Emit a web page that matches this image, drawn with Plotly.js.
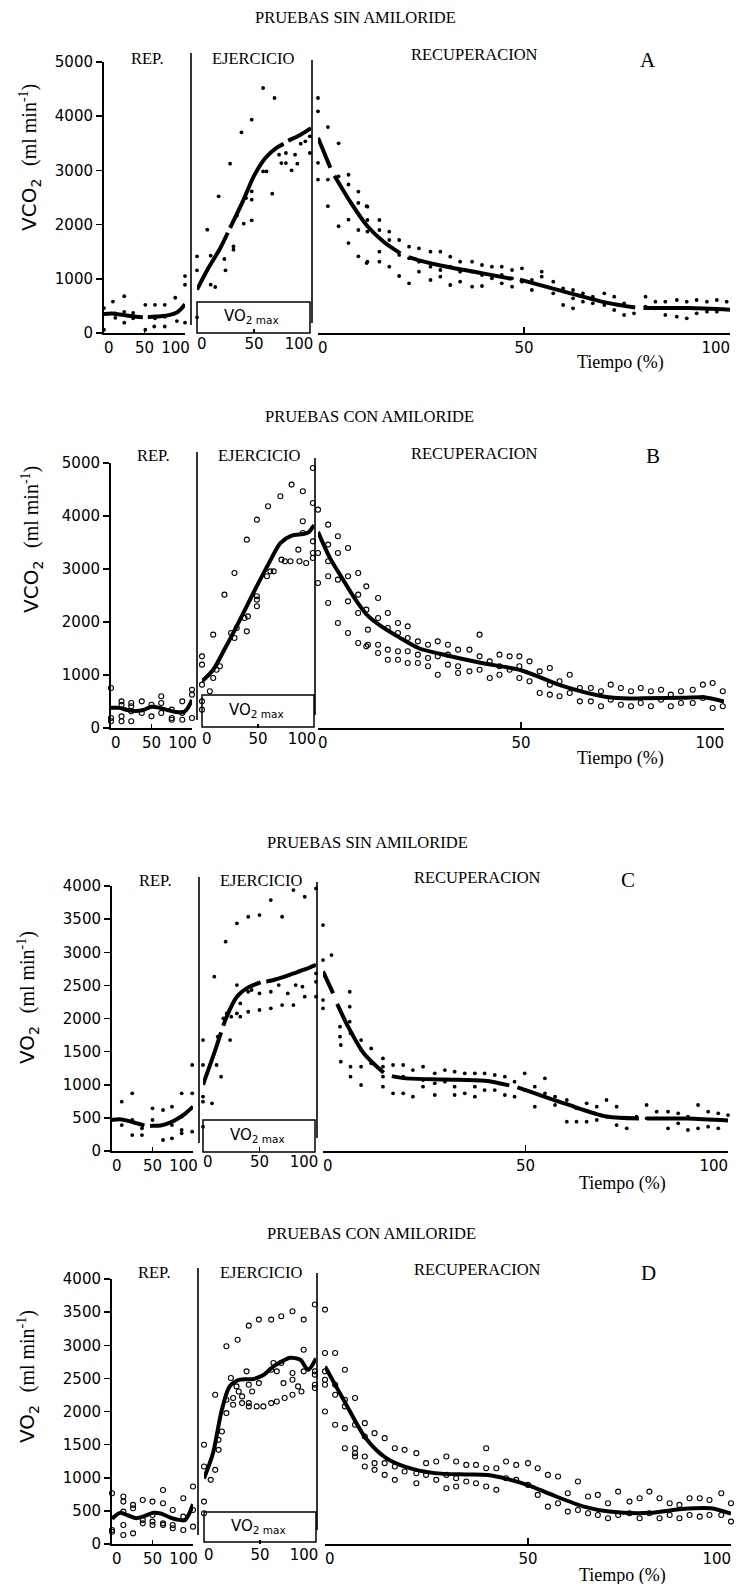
<!DOCTYPE html>
<html><head><meta charset="utf-8">
<script src="https://cdn.plot.ly/plotly-3.0.1.min.js"></script>
<style>html,body{margin:0;padding:0;background:#fff;}#chart{width:736px;height:1584px;}</style>
</head><body><div id="chart"></div>
<script>
// ---------------- DATA ----------------
const panelLetters = ['A','B','C','D'];
const panelTitles = ['PRUEBAS SIN AMILORIDE','PRUEBAS CON AMILORIDE','PRUEBAS SIN AMILORIDE','PRUEBAS CON AMILORIDE'];
const segmentLabels = ['REP.','EJERCICIO','RECUPERACION'];
const xTickVals = [0,50,100];
const xTickText = ['0','50','100'];
const yTicksVCO2 = [0,1000,2000,3000,4000,5000];
const yTicksVO2 = [0,500,1000,1500,2000,2500,3000,3500,4000];

// Panel A (VCO2, sin amiloride) — [x %, value]; null in a fit = break in the drawn curve
const A_rep_pts = [[0,460],[0,60],[11,580],[14,280],[14,360],[25,680],[25,190],[25,390],[36,370],[36,270],[51,520],[51,60],[63,520],[62,120],[63,270],[75,520],[75,120],[75,300],[88,650],[90,220],[100,1050],[100,890],[100,190]];
const A_rep_fit_x = [0,10,20,30,40,48,null,54,60,70,80,90,95,100];
const A_rep_fit_y = [350,360,340,320,300,292,null,293,300,310,330,380,440,530];
const A_ej_pts = [[0,1415],[0,1156],[0,290],[9,1906],[12,1427],[12,892],[16,849],[19,2521],[24,1365],[25,1156],[29,3124],[32,1599],[32,1538],[35,2165],[39,3702],[41,2017],[43,2490],[48,3936],[48,2460],[48,2079],[48,2613],[58,4520],[58,2982],[61,2982],[66,2570],[68,4336],[72,3290],[74,3136],[78,3136],[78,3321],[83,3001],[86,3290],[88,3124],[91,3493],[95,3536],[99,3321],[99,3628]];
const A_ej_fit_x = [0,10,20,27,null,29,40,50,60,70,76,null,80,90,100];
const A_ej_fit_y = [800,1200,1550,1850,null,1940,2420,2900,3230,3420,3490,null,3550,3650,3780];
const A_rec_pts = [[0,4336],[0,4090],[0,3140],[0,2830],[2.4,3800],[2.4,2830],[2.4,2340],[5,3500],[5,1970],[5,2890],[7.4,2920],[7.4,2740],[7.4,1660],[7.4,2090],[9.8,2610],[9.8,2400],[9.8,1415],[9.8,1900],[11.8,2340],[11.8,1290],
[12,2330],[12,2085],[12,1870],[12,1316],[14.9,2085],[14.9,1900],[14.9,1500],[14.9,1316],[17.3,1870],[17.3,1716],[17.3,1224],[19.7,1716],[19.7,1440],[19.7,1052],[22.1,1593],[22.1,1378],[22.1,916],[24.5,1562],[24.5,1316],[24.5,1132],[27.3,1500],[27.3,1224],[27.3,978],[29.7,1500],[29.7,1162],[29.7,1040],[32.1,1408],[32.1,1224],[32.1,886],[34.5,1316],[34.5,1132],[34.5,947],[37.4,1316],[37.4,1132],[37.4,855],[39.8,1255],[39.8,1070],[39.8,867],[42.2,1224],[42.2,1009],[44.6,1224],[44.6,1070],[44.6,916],[47.1,1162],[47.1,1009],[47.1,855],[49.5,1193],[49.5,947],[51.9,978],[51.9,793],[54.3,1132],[54.3,1040],[57.1,947],[57.1,732],[59.5,824],[59.5,517],[61.9,793],[61.9,640],[61.9,455],[64.3,732],[64.3,578],[66.7,670],[66.7,547],[69.5,732],[69.5,517],[71.9,670],[71.9,424],[74.3,547],[74.3,332],[76.7,363],[79.5,670],[79.5,486],[81.9,578],[81.9,455],[84.3,578],[84.3,332],[87.1,609],[87.1,301],[89.5,578],[89.5,270],[91.9,609],[91.9,363],[94.4,578],[94.4,394],[96.8,609],[96.8,394],[99.2,578]];
const A_rec_fit_x = [0,3,null,4,8,12,16,20,null,22,25,30,40,47,null,49,60,70,77,null,79,90,100];
const A_rec_fit_y = [3600,3050,null,2900,2400,1970,1680,1470,null,1400,1330,1240,1100,1000,null,985,760,560,470,null,460,460,430];

// Panel B (VCO2, con amiloride)
const B_rep_pts = [[0,755],[0,189],[0,126],[13,503],[13,440],[13,126],[13,220],[25,472],[25,315],[25,126],[25,409],[38,503],[38,283],[50,440],[50,220],[62,598],[62,472],[62,283],[75,346],[75,189],[75,157],[88,503],[88,283],[88,157],[100,723],[100,629],[100,189]];
const B_rep_fit_x = [0,10,20,30,40,50,60,70,80,90,95,100];
const B_rep_fit_y = [380,380,340,320,340,400,380,340,300,300,380,530];
const B_ej_pts = [[0,1352],[0,1195],[0,818],[0,503],[0,346],[7,692],[10,1761],[10,943],[13,1100],[16,1164],[20,2516],[26,1793],[29,1698],[29,2925],[31,1887],[38,2076],[40,3554],[40,1824],[41,2107],[49,3931],[49,2485],[49,2296],[49,2422],[58,2862],[59,4183],[61,2956],[64,2956],[70,4372],[71,3176],[74,3145],[79,3145],[80,4592],[86,3365],[87,3145],[90,4466],[90,3900],[90,3680],[93,3113],[99,4906],[99,4246],[99,3522],[99,3302],[99,3208]];
const B_ej_fit_x = [0,10,20,30,40,50,60,70,80,90,95,100];
const B_ej_fit_y = [880,1100,1480,1880,2300,2720,3120,3490,3630,3660,3690,3830];
const B_rec_pts = [[0,4120],[0,3302],[0,2736],[2.5,3837],[2.5,3460],[2.5,3145],[2.5,2862],[2.5,2359],[4.9,3617],[4.9,3302],[4.9,1981],[4.9,2799],[7.4,3397],[7.4,2862],[7.4,2390],[7.4,1793],[9.9,2925],[9.9,2516],[9.9,2170],[9.9,1604],[11.9,2673],[11.9,2233],[11.9,1541],
[12.3,1856],[12.3,1572],[14.8,2453],[14.8,2076],[14.8,1572],[14.8,1415],[17.2,2170],[17.2,1887],[17.2,1478],[17.2,1289],[19.7,1981],[19.7,1793],[19.7,1447],[19.7,1289],[22.1,1918],[22.1,1698],[22.1,1447],[22.1,1226],[24.6,1635],[24.6,1384],[24.6,1226],[27.1,1572],[27.1,1321],[27.1,1164],[29.5,1635],[29.5,1352],[29.5,1006],[32,1572],[32,1384],[32,1195],[34.5,1478],[34.5,1164],[34.5,1038],[37.3,1478],[37.3,1069],[39.8,1761],[39.8,1352],[39.8,1100],[42.3,1258],[42.3,943],[44.7,1384],[44.7,1164],[44.7,1006],[47.2,1352],[47.2,1100],[49.6,1352],[49.6,1164],[49.6,943],[52.1,1258],[52.1,881],[54.6,1069],[54.6,660],[57.1,1132],[57.1,818],[57.1,629],[59.5,881],[59.5,598],[62,1006],[62,660],[64.5,755],[64.5,503],[67.2,755],[67.2,503],[69.7,692],[69.7,409],[72.1,818],[72.1,535],[74.6,755],[74.6,440],[77.1,692],[77.1,409],[79.5,755],[79.5,472],[82,692],[82,409],[84.5,723],[84.5,535],[86.9,629],[86.9,409],[89.4,692],[89.4,472],[92.3,723],[92.3,472],[94.8,818],[94.8,566],[97.2,849],[97.2,377],[99.7,692],[99.7,409]];
const B_rec_fit_x = [0,3,6,9,12,15,20,25,30,40,50,60,70,75,80,90,95,100];
const B_rec_fit_y = [3700,3200,2820,2450,2140,1950,1710,1500,1400,1230,1090,800,600,560,560,570,580,500];

// Panel C (VO2, sin amiloride)
const C_rep_pts = [[0,468],[12,744],[12,392],[25,870],[25,468],[25,241],[37,241],[37,342],[50,644],[50,468],[63,619],[63,166],[74,669],[74,191],[74,392],[86,870],[86,518],[86,317],[86,267],[99,870],[99,1298],[99,292]];
const C_rep_fit_x = [0,10,20,30,40,null,47,50,60,70,80,90,100];
const C_rep_fit_y = [470,480,455,420,385,null,378,380,385,420,480,560,670];
const C_ej_pts = [[0,1675],[0,1298],[0,820],[0,744],[0,367],[8,719],[10,2631],[12,1298],[13,1725],[16,1122],[18,2002],[20,3159],[21,2077],[24,1675],[25,2027],[30,3436],[30,2505],[30,2077],[33,2228],[33,2027],[40,3536],[40,2404],[40,2102],[43,2430],[50,3561],[50,2379],[50,2128],[60,3788],[60,2404],[60,2153],[67,2505],[70,3536],[70,2203],[75,2379],[80,3939],[80,2203],[82,2505],[88,2480],[90,3838],[90,2329],[100,3964],[100,2681],[100,2555],[100,2329]];
const C_ej_fit_x = [0,10,16,null,18,20,30,40,51,null,56,60,70,80,90,100];
const C_ej_fit_y = [1000,1480,1790,null,1890,1990,2330,2470,2545,null,2560,2570,2620,2680,2740,2810];
const C_rec_pts = [[0,3410],[0,2882],[0,2278],[0,2153],[2.1,2958],[4.2,1876],[4.2,1725],[4.4,1600],[4.4,1348],[6.6,2404],[6.6,2178],[6.6,1952],[6.8,1776],[6.8,1273],[6.8,1122],[9.4,1675],[9.4,1273],[9.4,996],[9.4,1524],
[11.9,1549],[11.9,1323],[14.8,1398],[14.8,1273],[14.8,1122],[14.8,971],[17.3,1298],[17.3,870],[19.8,1298],[19.8,1122],[19.8,870],[22.2,1222],[22.2,820],[24.7,1273],[24.7,1071],[24.7,971],[27.6,1172],[27.6,1021],[27.6,845],[30.1,1222],[30.1,1046],[32.5,1197],[32.5,971],[32.5,845],[35,1172],[35,870],[37.5,1172],[37.5,971],[37.5,820],[39.9,1172],[39.9,920],[42.4,1147],[42.4,920],[44.9,1122],[44.9,845],[47.3,1046],[47.3,820],[49.8,1172],[49.8,920],[52.3,971],[52.3,669],[54.8,1097],[54.8,870],[57.3,820],[57.3,694],[60.2,770],[60.2,443],[62.6,644],[62.6,443],[65.1,719],[65.1,443],[67.6,669],[67.6,468],[70,770],[70,518],[72.5,669],[72.5,392],[75,342],[75,493],[77.4,518],[79.9,694],[79.9,493],[82.4,493],[82.4,594],[85.2,594],[85.2,342],[87.7,568],[87.7,417],[90.1,518],[90.1,317],[92.6,694],[92.6,342],[95.1,594],[95.1,367],[97.6,568],[97.6,342],[100,543]];
const C_rec_fit_x = [0,2.5,null,3.5,6,10,15,null,17,20,30,40,46,null,48,50,60,70,78,null,80,90,100];
const C_rec_fit_y = [2710,2380,null,2220,1900,1480,1180,null,1130,1100,1080,1060,990,null,960,920,710,520,492,null,490,490,460];

// Panel D (VO2, con amiloride)
const D_rep_pts = [[0,766],[0,212],[0,186],[14,716],[14,640],[14,489],[14,287],[14,136],[26,590],[26,539],[26,161],[38,665],[38,363],[38,312],[50,640],[50,438],[50,338],[50,287],[63,816],[63,615],[63,312],[63,287],[75,514],[75,287],[75,237],[88,690],[88,413],[88,212],[100,867],[100,514],[100,262]];
const D_rep_fit_x = [0,10,20,30,40,50,60,70,80,90,95,100];
const D_rep_fit_y = [380,470,430,390,420,470,460,410,370,360,450,600];
const D_ej_pts = [[0,1497],[0,1169],[0,640],[0,464],[6,968],[10,2253],[10,1119],[13,1421],[13,1572],[16,1698],[20,2984],[20,1976],[20,2177],[24,2505],[26,2203],[26,2102],[29,2379],[30,3084],[31,2303],[34,2127],[34,2228],[38,2606],[40,3296],[40,2404],[40,2077],[40,2127],[43,2303],[47,2077],[49,3387],[49,2429],[53,2077],[60,3387],[60,2631],[60,2127],[62,2732],[65,2606],[65,2152],[69,3437],[69,2732],[71,2429],[72,2203],[79,3513],[79,2580],[79,2480],[79,2253],[84,2379],[87,2303],[89,3387],[89,2933],[89,2606],[99,3614],[99,2606],[99,2556],[99,2404],[99,2354]];
const D_ej_fit_x = [0,8,16,23,32,44,53,62,70,77,86,93,100];
const D_ej_fit_y = [990,1370,2030,2380,2480,2490,2550,2680,2760,2810,2780,2630,2800];
const D_rec_pts = [[0,3538],[0,2883],[0,2606],[0,2480],[0,2404],[0,2001],[2.5,2883],[2.5,2404],[2.5,1799],[2.5,2253],[4.9,2631],[4.9,2177],[4.9,2077],[4.9,1749],[4.9,1446],[7.4,2203],[7.4,1799],[7.4,1446],[7.4,1320],[7.4,1371],[9.8,1824],[9.8,1623],[9.8,1320],[9.8,1169],
[12.2,1673],[12.2,1220],[12.2,1119],[14.7,1598],[14.7,1220],[14.7,1043],[17.2,1446],[17.2,1169],[17.2,968],[19.6,1421],[19.6,1094],[22.5,1371],[22.5,1069],[22.5,917],[24.9,1220],[24.9,1043],[27.4,1245],[27.4,968],[29.9,1320],[29.9,1043],[29.9,842],[32.3,1245],[32.3,993],[32.3,867],[34.8,1194],[34.8,943],[37.2,1194],[37.2,917],[39.7,1446],[39.7,1144],[39.7,867],[42.2,1144],[42.2,817],[44.6,1245],[44.6,993],[47.1,1194],[47.1,968],[50,1220],[50,892],[52.4,1144],[52.4,741],[54.9,1043],[54.9,564],[57.4,1018],[57.4,615],[59.8,766],[59.8,489],[62.3,943],[62.3,514],[64.8,716],[64.8,464],[67.2,741],[67.2,438],[69.7,615],[69.7,388],[72.2,791],[72.2,438],[75,640],[75,464],[77.5,690],[77.5,388],[79.9,791],[79.9,464],[82.4,690],[82.4,388],[84.9,615],[84.9,438],[87.3,590],[87.3,388],[89.8,690],[89.8,438],[92.3,690],[92.3,413],[94.7,665],[94.7,438],[97.6,766],[97.6,438],[100,615],[100,338]];
const D_rec_fit_x = [0,5,10,15,20,27,35,40,45,50,56,64,70,80,88,95,100];
const D_rec_fit_y = [2680,2130,1600,1300,1160,1070,1050,1040,980,890,740,560,490,470,530,540,460];

// ---------------- LAYOUT HELPERS ----------------
const W = 736, H = 1584;
const fx = p => p / W;
const fy = p => 1 - p / H;
const NB = '\u00a0';
// the original's first / last tick labels are pulled inward; emulate with padding
const padLabels = (t, n) => [NB + NB + t[0], t[1], t[2] + NB.repeat(n)];
const padCounts = [4, 5, 6];

const panelGeom = [
  {yTop:62, yBot:333, yMax:5000, ticks:yTicksVCO2, rep:[104,185], ej:[197,311], rec:[318,730], sep1:[191,53,325], sep2:[312,60,323], box:[197,302,310,333],
   title:[355,18], lab:[[147,59],[254,59],[475,55]], letter:[648,60], tiempo:[620,363], ytit:[30,158], yname:'VCO<sub>2</sub>', filled:true},
  {yTop:463, yBot:728, yMax:5000, ticks:yTicksVCO2, rep:[111,192], ej:[202,314], rec:[318,724], sep1:[197,452,720], sep2:[315,458,715], box:[202,695,314,727],
   title:[369,417], lab:[[153,456],[259,456],[475,453]], letter:[653,456], tiempo:[620,758], ytit:[32,540], yname:'VCO<sub>2</sub>', filled:false},
  {yTop:886, yBot:1151, yMax:4000, ticks:yTicksVO2, rep:[112,193], ej:[203,316], rec:[323,728], sep1:[199,877,1143], sep2:[317,882,1138], box:[203,1120,315,1152],
   title:[367,842], lab:[[155,880],[261,880],[477,877]], letter:[628,880], tiempo:[622,1183], ytit:[28,998], yname:'VO<sub>2</sub>', filled:true},
  {yTop:1279, yBot:1544, yMax:4000, ticks:yTicksVO2, rep:[112,193], ej:[204,316], rec:[325,731], sep1:[198,1268,1535], sep2:[317,1273,1530], box:[204,1512,316,1542],
   title:[371,1233], lab:[[154,1272],[261,1272],[477,1269]], letter:[648,1273], tiempo:[622,1575], ytit:[28,1377], yname:'VO<sub>2</sub>', filled:false}
];

const dataSets = [
  [[A_rep_pts,A_rep_fit_x,A_rep_fit_y],[A_ej_pts,A_ej_fit_x,A_ej_fit_y],[A_rec_pts,A_rec_fit_x,A_rec_fit_y]],
  [[B_rep_pts,B_rep_fit_x,B_rep_fit_y],[B_ej_pts,B_ej_fit_x,B_ej_fit_y],[B_rec_pts,B_rec_fit_x,B_rec_fit_y]],
  [[C_rep_pts,C_rep_fit_x,C_rep_fit_y],[C_ej_pts,C_ej_fit_x,C_ej_fit_y],[C_rec_pts,C_rec_fit_x,C_rec_fit_y]],
  [[D_rep_pts,D_rep_fit_x,D_rep_fit_y],[D_ej_pts,D_ej_fit_x,D_ej_fit_y],[D_rec_pts,D_rec_fit_x,D_rec_fit_y]]
];

const SERIF = 'Liberation Serif, serif';
const SANS = 'DejaVu Sans, sans-serif';
const traces = [];
const layout = {
  width: W, height: H, margin:{l:0,r:0,t:0,b:0},
  paper_bgcolor:'#fff', plot_bgcolor:'rgba(0,0,0,0)', showlegend:false,
  shapes:[], annotations:[]
};

panelGeom.forEach((g, p) => {
  const yName = 'yaxis' + (p+1);
  const yId = 'y' + (p+1);
  const segs = [g.rep, g.ej, g.rec];
  layout[yName] = {
    domain:[fy(g.yBot), fy(g.yTop)], range:[0, g.yMax], anchor:'x'+(p*3+1),
    showline:true, linewidth:2, linecolor:'#000', ticks:'outside', ticklen:6, tickwidth:1.5, tickcolor:'#000',
    tickvals:g.ticks, ticktext:g.ticks.map(String), showgrid:false, zeroline:false,
    tickfont:{family:SANS, size:15, color:'#000'}
  };
  segs.forEach((s, k) => {
    const xi = p*3 + k + 1;
    const xName = 'xaxis' + (xi === 1 ? '' : xi);
    const xId = 'x' + (xi === 1 ? '' : xi);
    layout[xName] = {
      domain:[fx(s[0]), fx(s[1])], range:[0,100], anchor:yId,
      showline: k !== 1, linewidth: k === 0 ? 2 : 1.5, linecolor:'#000',
      ticks:'inside', ticklen: k === 2 ? 6 : 4, tickwidth:1.2, tickcolor:'#000',
      tickvals:xTickVals, ticktext:padLabels(xTickText, padCounts[k]), ticklabeloverflow:'allow',
      showgrid:false, zeroline:false,
      tickfont:{family:SANS, size:15, color:'#000'}
    };
    const ds = dataSets[p][k];
    traces.push({
      type:'scatter', mode:'markers', xaxis:xId, yaxis:yId,
      x: ds[0].map(d => d[0]), y: ds[0].map(d => d[1]), cliponaxis:false,
      marker: g.filled ? {symbol:'circle', size:3.8, color:'#000'} :
                         {symbol:'circle-open', size:5, color:'#000', line:{width:1.1, color:'#000'}},
      hoverinfo:'skip'
    });
    traces.push({
      type:'scatter', mode:'lines', xaxis:xId, yaxis:yId, x: ds[1], y: ds[2], connectgaps:false,
      line:{color:'#000', width:4, shape:'spline', smoothing:0.8}, cliponaxis:false, hoverinfo:'skip'
    });
  });
  // separators and VO2max box
  [g.sep1, g.sep2].forEach(sp => layout.shapes.push({type:'line', xref:'paper', yref:'paper',
    x0:fx(sp[0]), x1:fx(sp[0]), y0:fy(sp[1]), y1:fy(sp[2]), line:{color:'#000', width:1.6}}));
  layout.shapes.push({type:'rect', xref:'paper', yref:'paper', x0:fx(g.box[0]), x1:fx(g.box[2]),
    y0:fy(g.box[3]), y1:fy(g.box[1]), line:{color:'#000', width:1.5}, fillcolor:'rgba(0,0,0,0)'});
  const ann = (x, y, text, size, family, extra) => layout.annotations.push(Object.assign({
    xref:'paper', yref:'paper', x:fx(x), y:fy(y), text, showarrow:false, xanchor:'center', yanchor:'middle',
    font:{family, size, color:'#000'}}, extra || {}));
  ann((g.box[0]+g.box[2])/2 - 2, (g.box[1]+g.box[3])/2 - 1, 'VO<sub>2 max</sub>', 15, SANS);
  ann(g.title[0], g.title[1], panelTitles[p], 16.5, SERIF);
  g.lab.forEach((l, k) => ann(l[0], l[1], segmentLabels[k], 16.5, SERIF));
  ann(g.letter[0], g.letter[1], panelLetters[p], 21, SERIF);
  ann(g.tiempo[0], g.tiempo[1], 'Tiempo (%)', 18, SERIF);
  ann(g.ytit[0], g.ytit[1], g.yname + '  <span style="font-family:Liberation Serif">(ml min<sup>-1</sup>)</span>', 20, SANS, {textangle:-90});
});

Plotly.newPlot('chart', traces, layout, {staticPlot:true, displayModeBar:false});
</script>
</body></html>
